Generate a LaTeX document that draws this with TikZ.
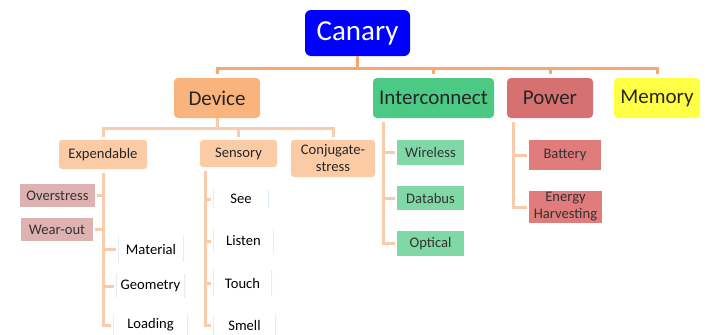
\documentclass[tikz,border=0pt]{standalone}
\usepackage{fontspec}
\setmainfont{Carlito}
\begin{document}
\begin{tikzpicture}[x=1pt,y=-1pt,
  box/.style={rounded corners=4pt, inner sep=0pt, align=center, text=black!85},
  flat/.style={inner sep=0pt, align=center, text=black!80, font=\fontsize{14.6}{17}\selectfont},
  big/.style={box, font=\fontsize{21}{21}\selectfont},
  mid/.style={box, rounded corners=3pt, font=\fontsize{14.6}{17}\selectfont, fill=peachlight},
  leaf/.style={inner sep=0pt, text=black, font=\fontsize{14.6}{15}\selectfont,
    path picture={\draw[leafedge, line width=1.6pt]
      (path picture bounding box.north west) -- (path picture bounding box.south west)
      (path picture bounding box.north east) -- (path picture bounding box.south east);}},
  bus/.style={draw=busorange, line width=3pt},
  sub/.style={draw=subpeach, line width=3pt}
]
\definecolor{busorange}{HTML}{F5A773}
\definecolor{subpeach}{HTML}{F9CBAD}
\definecolor{canaryblue}{HTML}{0000FF}
\definecolor{devorange}{HTML}{F9B47E}
\definecolor{peachlight}{HTML}{FBCBA5}
\definecolor{icgreen}{HTML}{4CC984}
\definecolor{icgreenlight}{HTML}{80D8A7}
\definecolor{powred}{HTML}{D77171}
\definecolor{powredlight}{HTML}{E07C7C}
\definecolor{memyellow}{HTML}{FFFF44}
\definecolor{pinkbox}{HTML}{DFB2B2}
\definecolor{leafedge}{HTML}{E2EEF6}

\useasboundingbox (0,0) rectangle (705,335);

% top level
\node[box, rounded corners=6pt, fill=canaryblue, text=white, minimum width=105pt, minimum height=46pt,
      font=\fontsize{29}{29}\selectfont] (canary) at (357.5,33) {Canary};
\node[big, fill=devorange, minimum width=86pt, minimum height=40pt] (device) at (217,98) {Device};
\node[big, fill=icgreen, minimum width=121pt, minimum height=40pt] (inter) at (433.5,98) {Interconnect};
\node[big, fill=powred, minimum width=86pt, minimum height=40pt] (power) at (550,98) {Power};
\node[big, fill=memyellow, minimum width=86pt, minimum height=40pt] (memory) at (657,98) {Memory};

% device branches
\node[mid, minimum width=88pt, minimum height=29pt] (expend) at (103,154.5) {Expendable};
\node[mid, minimum width=77pt, minimum height=27pt] (sensory) at (238.5,153.5) {Sensory};
\node[mid, minimum width=84pt, minimum height=37pt] (conj) at (333,158.5) {Conjugate-\\stress};

% expendable items
\node[flat, fill=pinkbox, minimum width=75pt, minimum height=23pt] (over) at (57.5,195.5) {Overstress};
\node[flat, fill=pinkbox, minimum width=72pt, minimum height=23pt] (wear) at (57,229.5) {Wear-out};
\node[leaf, minimum width=66pt, minimum height=26pt] (material) at (151,249) {Material};
\node[leaf, minimum width=69pt, minimum height=24pt] (geometry) at (150.5,286) {Geometry};
\node[leaf, minimum width=75pt, minimum height=20pt] (loading) at (150.5,325) {Loading};

% sensory items
\node[leaf, minimum width=56pt, minimum height=18pt] (see) at (241,199) {See};
\node[leaf, minimum width=61pt, minimum height=24pt] (listen) at (243.5,241) {Listen};
\node[leaf, minimum width=59pt, minimum height=26pt] (touch) at (242.5,283) {Touch};
\node[leaf, minimum width=63pt, minimum height=20pt] (smell) at (244.5,325) {Smell};

% interconnect items
\node[flat, fill=icgreenlight, minimum width=67pt, minimum height=25pt] (wireless) at (430.5,152.5) {Wireless};
\node[flat, fill=icgreenlight, minimum width=67pt, minimum height=24pt] (databus) at (430.5,198) {Databus};
\node[flat, fill=icgreenlight, minimum width=67pt, minimum height=25pt] (optical) at (430.5,243.5) {Optical};

% power items
\node[flat, fill=powredlight, minimum width=72pt, minimum height=30pt] (battery) at (565,155) {Battery};
\node[flat, fill=powredlight, minimum width=73pt, minimum height=32pt] (energy) at (565.5,207) {Energy\\Harvesting};

% top bus
\draw[bus] (canary.south) -- ++(0,12) coordinate (cb);
\foreach \t in {device,inter,power,memory}
  \draw[bus, shorten >=4pt] (cb) -| (\t.north);

% device bus
\draw[sub] (device.south) -- ++(0,10) coordinate (db);
\foreach \t in {expend,sensory,conj}
  \draw[sub, shorten >=3pt] (db) -| (\t.north);

% expendable spine
\coordinate (es) at ([yshift=-4pt]expend.south);
\draw[sub] (es) |- ([xshift=-2pt]loading.west);
\draw[sub] (es |- over.east) -- ([xshift=2pt]over.east);
\draw[sub] (es |- wear.east) -- ([xshift=2pt]wear.east);
\draw[sub] (es |- material.west) -- ([xshift=-2pt]material.west);
\draw[sub] (es |- geometry.west) -- ([xshift=-2pt]geometry.west);

% sensory spine
\coordinate (ss) at ([xshift=6pt,yshift=-4pt]sensory.south west);
\draw[sub] (ss) |- ([xshift=-2pt]smell.west);
\foreach \t in {see,listen,touch}
  \draw[sub] (ss |- \t.west) -- ([xshift=-2pt]\t.west);

% interconnect spine
\coordinate (is) at ([xshift=11pt,yshift=-4pt]inter.south west);
\draw[sub] (is) |- ([xshift=-2pt]optical.west);
\foreach \t in {wireless,databus}
  \draw[sub] (is |- \t.west) -- ([xshift=-2pt]\t.west);

% power spine
\coordinate (ps) at ([xshift=7pt,yshift=-4pt]power.south west);
\draw[sub] (ps) |- ([xshift=-2pt]energy.west);
\draw[sub] (ps |- battery.west) -- ([xshift=-2pt]battery.west);
\end{tikzpicture}
\end{document}
